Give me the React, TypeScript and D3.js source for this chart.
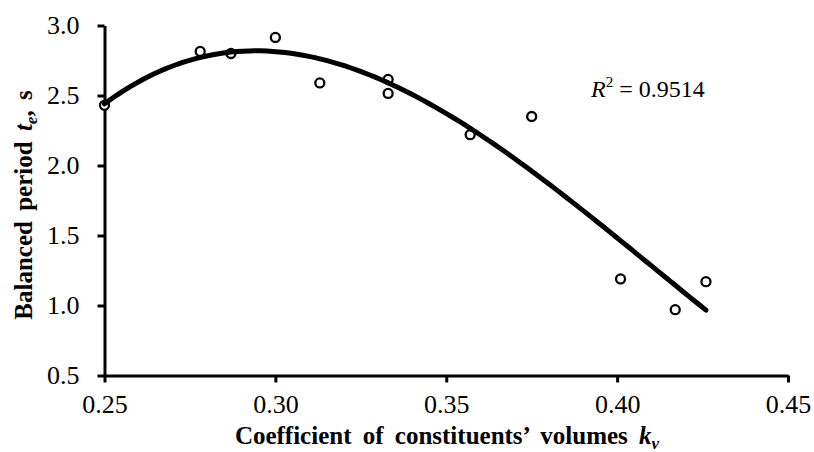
import { useEffect, useRef } from 'react';
import * as d3 from 'd3';

const kv = [0.25, 0.278, 0.287, 0.3, 0.313, 0.333, 0.333, 0.357, 0.375, 0.401, 0.417, 0.426];
const te = [2.43, 2.815, 2.8, 2.915, 2.59, 2.615, 2.515, 2.22, 2.35, 1.19, 0.97, 1.17];

const xTicks = [0.25, 0.3, 0.35, 0.4, 0.45];
const yTicks = [0.5, 1.0, 1.5, 2.0, 2.5, 3.0];
const r2Label = '0.9514';

// least-squares polynomial (Excel-style trendline)
function polyFit(xs: number[], ys: number[], order: number, x0: number) {
  const n = order + 1;
  const A: number[][] = Array.from({ length: n }, () => new Array(n + 1).fill(0));
  xs.forEach((xv, k) => {
    const x = xv - x0;
    for (let i = 0; i < n; i++) {
      for (let j = 0; j < n; j++) A[i][j] += Math.pow(x, i + j);
      A[i][n] += Math.pow(x, i) * ys[k];
    }
  });
  for (let c = 0; c < n; c++) {
    let p = c;
    for (let r = c + 1; r < n; r++) if (Math.abs(A[r][c]) > Math.abs(A[p][c])) p = r;
    [A[c], A[p]] = [A[p], A[c]];
    for (let r = 0; r < n; r++) {
      if (r === c) continue;
      const f = A[r][c] / A[c][c];
      for (let j = c; j <= n; j++) A[r][j] -= f * A[c][j];
    }
  }
  const coef = A.map((row, i) => row[n] / row[i]);
  return (xv: number) => coef.reduce((s, a, i) => s + a * Math.pow(xv - x0, i), 0);
}

export default function App() {
  const svgRef = useRef<SVGSVGElement>(null);
  const width = 814;
  const height = 452;

  useEffect(() => {
    if (!svgRef.current) return;
    const svg = d3.select(svgRef.current);
    svg.selectAll('*').remove();

    const x = d3.scaleLinear().domain([0.25, 0.45]).range([104.5, 788]);
    const y = d3.scaleLinear().domain([0.5, 3.0]).range([375.5, 25.5]);
    const font = '"Liberation Serif", "Times New Roman", serif';

    // x axis
    const xAxis = svg.append('g')
      .attr('transform', `translate(0,${y(0.5)})`)
      .call(d3.axisBottom(x).tickValues(xTicks).tickSize(7).tickSizeOuter(0).tickPadding(12).tickFormat(d3.format('.2f')));
    xAxis.select('.domain').attr('stroke', '#000').attr('stroke-width', 3);
    xAxis.selectAll('line').attr('stroke', '#000').attr('stroke-width', 3);
    xAxis.selectAll('text')
      .attr('fill', '#000')
      .style('font-family', font)
      .style('font-size', '26px');

    // y axis
    const yAxis = svg.append('g')
      .attr('transform', `translate(${x(0.25)},0)`)
      .call(d3.axisLeft(y).tickValues(yTicks).tickSize(7).tickSizeOuter(0).tickPadding(18).tickFormat(d3.format('.1f')));
    yAxis.select('.domain').attr('stroke', '#000').attr('stroke-width', 3);
    yAxis.selectAll('line').attr('stroke', '#000').attr('stroke-width', 3);
    yAxis.selectAll('text')
      .attr('fill', '#000')
      .attr('dy', '0.32em')
      .style('font-family', font)
      .style('font-size', '26px');

    const pts = kv.map((k, i) => ({ k, t: te[i] }));

    // markers
    svg.append('g')
      .selectAll('circle')
      .data(pts)
      .join('circle')
      .attr('cx', d => x(d.k))
      .attr('cy', d => y(d.t))
      .attr('r', 4.5)
      .attr('fill', '#fff')
      .attr('stroke', '#000')
      .attr('stroke-width', 2.3);

    // polynomial trendline
    const fit = polyFit(kv, te, 3, 0.33);
    const [x0, x1] = d3.extent(kv) as [number, number];
    const samples = d3.range(0, 101).map(i => x0 + ((x1 - x0) * i) / 100);
    svg.append('path')
      .datum(samples)
      .attr('fill', 'none')
      .attr('stroke', '#000')
      .attr('stroke-width', 5)
      .attr('stroke-linecap', 'round')
      .attr('d', d3.line<number>().x(d => x(d)).y(d => y(fit(d))));

    // R^2 label
    const r2 = svg.append('text')
      .attr('x', 591)
      .attr('y', 97)
      .style('font-family', font)
      .style('font-size', '24px')
      .attr('fill', '#000');
    r2.append('tspan').style('font-style', 'italic').text('R');
    r2.append('tspan').attr('dy', -10).style('font-size', '15px').text('2');
    r2.append('tspan').attr('dy', 10).text(` = ${r2Label}`);

    // x title
    const xt = svg.append('text')
      .attr('x', 447)
      .attr('y', 444)
      .attr('text-anchor', 'middle')
      .style('font-family', font)
      .style('font-size', '25px')
      .style('font-weight', 'bold')
      .style('word-spacing', '5px')
      .attr('fill', '#000');
    xt.append('tspan').text('Coefficient of constituents\u2019 volumes ');
    xt.append('tspan').style('font-style', 'italic').text('k');
    xt.append('tspan').style('font-style', 'italic').style('font-size', '17px').attr('dy', 5).text('v');

    // y title
    const yt = svg.append('text')
      .attr('transform', `translate(32,205) rotate(-90)`)
      .attr('text-anchor', 'middle')
      .style('font-family', font)
      .style('font-size', '25px')
      .style('font-weight', 'bold')
      .style('word-spacing', '4px')
      .attr('fill', '#000');
    yt.append('tspan').text('Balanced period ');
    yt.append('tspan').style('font-style', 'italic').text('t');
    yt.append('tspan').style('font-style', 'italic').style('font-size', '17px').attr('dy', 5).text('e');
    yt.append('tspan').attr('dy', -5).text(', s');
  }, []);

  return (
    <svg
      ref={svgRef}
      width={width}
      height={height}
      viewBox={`0 0 ${width} ${height}`}
      style={{ position: 'absolute', left: 0, top: 0, background: '#fff' }}
    />
  );
}
